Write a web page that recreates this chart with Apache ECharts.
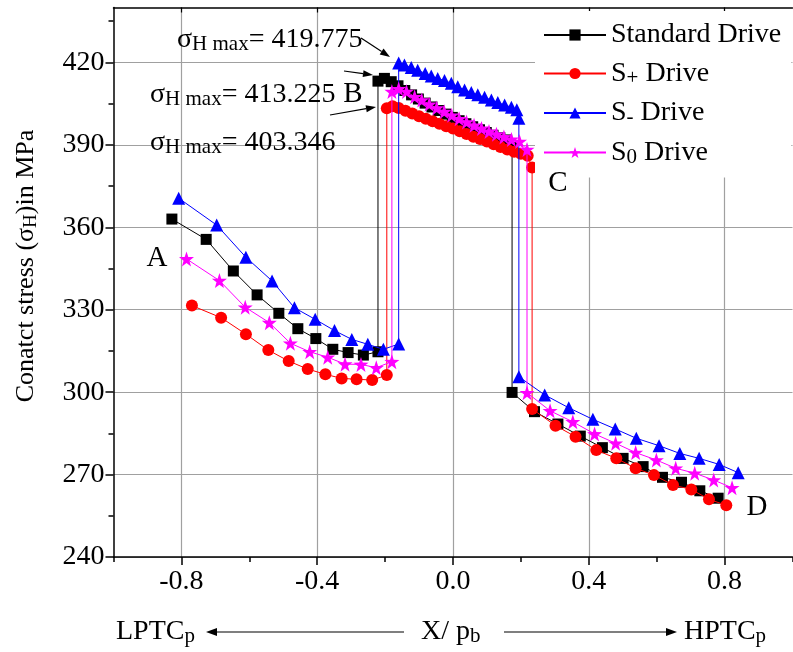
<!DOCTYPE html>
<html>
<head>
<meta charset="utf-8">
<script src="https://cdn.jsdelivr.net/npm/echarts@6/dist/echarts.min.js"></script>
<style>
html,body{margin:0;padding:0;background:#fff;}
#chart{width:793px;height:652px;}
</style>
</head>
<body>
<div id="chart"></div>
<script>
// ---------- DATA ----------
const seriesNames = ['Standard Drive', 'S+ Drive', 'S- Drive', 'S0 Drive'];

// Standard Drive
const stdX = [-0.828,-0.727,-0.647,-0.577,-0.513,-0.457,-0.404,-0.354,-0.309,-0.264,-0.221,
  -0.221,-0.202,-0.182,-0.162,-0.142,-0.122,-0.102,-0.082,-0.062,-0.042,-0.022,-0.002,0.018,0.038,0.058,0.078,0.098,0.118,0.138,0.158,0.174,
  0.174,0.240,0.309,0.375,0.440,0.501,0.560,0.617,0.673,0.727,0.781];
const stdY = [363.0,355.6,344.1,335.4,328.7,323.1,319.5,315.6,314.4,313.5,314.7,
  413.2,414.2,413.0,411.5,409.8,408.2,406.7,405.2,403.8,402.5,401.2,400.0,398.8,397.7,396.6,395.5,394.5,393.5,392.6,391.8,389.1,
  299.9,292.9,288.4,284.0,279.8,275.9,272.9,269.0,267.2,264.1,261.4];

// S+ Drive
const plusX = [-0.769,-0.683,-0.610,-0.544,-0.484,-0.428,-0.376,-0.328,-0.284,-0.238,-0.195,
  -0.195,-0.178,-0.160,-0.140,-0.120,-0.100,-0.080,-0.060,-0.040,-0.020,0.000,0.020,0.040,0.060,0.080,0.100,0.120,0.140,0.160,0.180,0.200,0.220,0.233,
  0.233,0.302,0.361,0.422,0.481,0.538,0.592,0.648,0.702,0.754,0.805];
const plusY = [331.5,327.1,321.1,315.3,311.3,308.4,306.5,305.0,304.7,304.4,306.2,
  403.3,404.1,403.4,402.4,401.4,400.4,399.5,398.6,397.7,396.8,396.0,395.0,394.0,393.0,392.1,391.2,390.2,389.2,388.3,387.5,386.8,386.0,381.8,
  293.9,287.8,283.8,278.9,275.9,272.3,269.8,266.2,264.6,261.0,258.8];

// S- Drive
const minusX = [-0.808,-0.696,-0.610,-0.533,-0.467,-0.406,-0.349,-0.298,-0.251,-0.205,-0.160,
  -0.160,-0.143,-0.123,-0.104,-0.082,-0.064,-0.045,-0.025,-0.005,0.014,0.034,0.054,0.073,0.093,0.113,0.132,0.152,0.172,0.188,0.194,
  0.194,0.270,0.341,0.412,0.478,0.540,0.607,0.668,0.725,0.784,0.840];
const minusY = [370.6,360.8,349.1,340.5,330.7,326.5,322.4,319.2,317.4,315.6,317.5,
  419.8,419.1,418.2,417.2,416.0,415.1,414.2,413.4,412.4,411.2,410.0,409.1,408.2,407.3,406.3,405.4,404.5,403.7,402.8,399.7,
  305.6,299.0,294.3,290.1,286.6,283.2,280.5,277.7,275.9,273.7,270.7];

// S0 Drive
const zeroX = [-0.785,-0.688,-0.612,-0.541,-0.479,-0.422,-0.369,-0.318,-0.271,-0.226,-0.180,
  -0.180,-0.160,-0.137,-0.113,-0.092,-0.070,-0.048,-0.026,-0.004,0.018,0.040,0.062,0.084,0.106,0.128,0.150,0.172,0.196,0.218,
  0.218,0.286,0.353,0.417,0.479,0.538,0.599,0.656,0.712,0.768,0.822];
const zeroY = [348.5,340.6,330.9,325.3,317.8,314.7,312.7,310.2,310.1,308.9,311.1,
  409.4,410.4,409.4,407.5,406.3,404.8,403.4,402.1,400.8,399.5,398.3,397.1,396.0,394.9,393.9,392.9,392.0,391.2,388.3,
  299.8,293.2,289.2,284.8,281.4,278.0,275.3,272.3,270.5,268.0,265.2];

// Axis ticks
const xMajorTicks = [-0.8, -0.4, 0.0, 0.4, 0.8];
const yMajorTicks = [240, 270, 300, 330, 360, 390, 420];
const yMinorTicks = [255, 285, 315, 345, 375, 405, 435];
const xMinorTicks = [-1.0, -0.6, -0.2, 0.2, 0.6, 1.0];

// ---------- STYLE ----------
const FONT = '"Liberation Serif", "Times New Roman", serif';
const colors = ['#000000', '#ff0000', '#0000ff', '#ff00ff'];
const STAR = 'path://M50,0 L61.8,35.1 L98.6,35.4 L69,57.3 L79.4,92.7 L50,71.3 L20.6,92.7 L31,57.3 L1.4,35.4 L38.2,35.1 Z';
const symbols = ['rect', 'circle', 'triangle', STAR];
const symbolSizes = [11, 12, 13, 15];

function zip(xs, ys) { return xs.map((x, i) => [x, ys[i]]); }
const allData = [zip(stdX, stdY), zip(plusX, plusY), zip(minusX, minusY), zip(zeroX, zeroY)];

function makeRich(size, subSize) {
  return {
    m: { fontFamily: FONT, fontSize: size, lineHeight: 30, color: '#000' },
    sub: { fontFamily: FONT, fontSize: subSize, lineHeight: 14, verticalAlign: 'bottom', color: '#000' }
  };
}
const subRich = makeRich(28, 21);
const ylabRich = makeRich(26, 19);

const legendLabels = {
  'Standard Drive': '{m|Standard Drive}',
  'S+ Drive': '{m|S}{sub|+}{m| Drive}',
  'S- Drive': '{m|S}{sub|-}{m| Drive}',
  'S0 Drive': '{m|S}{sub|0}{m| Drive}'
};

function arrow(x1, y1, x2, y2, head, w) {
  const dx = x2 - x1, dy = y2 - y1;
  const L = Math.sqrt(dx * dx + dy * dy);
  const ux = dx / L, uy = dy / L;
  const bx = x2 - ux * head, by = y2 - uy * head;
  const px = -uy * w / 2, py = ux * w / 2;
  return [
    { type: 'line', shape: { x1: x1, y1: y1, x2: bx, y2: by }, style: { stroke: '#000', lineWidth: 1.2 }, z: 100 },
    { type: 'polygon', shape: { points: [[x2, y2], [bx + px, by + py], [bx - px, by - py]] }, style: { fill: '#000' }, z: 100 }
  ];
}

function richText(text, x, y, align, rot, rich) {
  return {
    type: 'text', z: 100, x: x, y: y, rotation: rot || 0,
    style: {
      text: text, x: 0, y: 0, rich: rich || subRich,
      textAlign: align, align: align, textVerticalAlign: 'middle', verticalAlign: 'middle',
      fontFamily: FONT, fontSize: 28, fill: '#000'
    }
  };
}
function plainText(text, x, y, size) {
  return {
    type: 'text', z: 100,
    style: { text: text, x: x, y: y, textAlign: 'center', align: 'center', textVerticalAlign: 'middle', verticalAlign: 'middle',
      fontFamily: FONT, fontSize: size, fill: '#000' }
  };
}

const graphics = [].concat(
  [richText('{m|σ}{sub|H max}{m|= 419.775}', 177, 40, 'left')],
  [richText('{m|σ}{sub|H max}{m|= 413.225}', 150, 95, 'left')],
  [richText('{m|σ}{sub|H max}{m|= 403.346}', 150, 143, 'left')],
  [plainText('B', 353, 94, 29), plainText('A', 157, 258, 29), plainText('C', 558, 183, 29), plainText('D', 757, 507, 29)],
  arrow(361, 38, 390, 57, 10, 7),
  arrow(344, 71, 373, 75, 10, 7),
  arrow(330, 115, 376, 107, 10, 7),
  [richText('{m|LPTC}{sub|p}', 116, 632, 'left')],
  [richText('{m|X/ p}{sub|b}', 421, 632, 'left')],
  [richText('{m|HPTC}{sub|p}', 684, 632, 'left')],
  arrow(404, 632, 206, 632, 11, 8),
  arrow(504, 632, 677, 632, 11, 8),
  [richText('{m|Conatct stress (σ}{sub|H}{m|)in MPa}', 26, 266, 'center', Math.PI / 2, ylabRich)]
);

const chart = echarts.init(document.getElementById('chart'), null, { renderer: 'canvas' });

const option = {
  animation: false,
  backgroundColor: '#fff',
  grid: { left: 113.5, right: 0.5, top: 7.5, bottom: 95, containLabel: false },
  legend: {
    data: seriesNames,
    orient: 'vertical',
    left: 535, top: 11,
    padding: [10, 10, 10, 8],
    itemGap: 10.5,
    itemWidth: 62, itemHeight: 14,
    backgroundColor: '#fff',
    formatter: function (n) { return legendLabels[n]; },
    textStyle: { fontFamily: FONT, fontSize: 28, color: '#000', rich: subRich }
  },
  xAxis: [
    {
      type: 'value', min: -1, max: 1, interval: 0.2, position: 'bottom',
      axisLine: { show: true, onZero: false, lineStyle: { color: '#000', width: 1.5 } },
      axisTick: { show: true, customValues: xMajorTicks, length: 8, lineStyle: { color: '#000', width: 1.5 } },
      axisLabel: { show: true, customValues: xMajorTicks, margin: 11, fontFamily: FONT, fontSize: 28, color: '#000',
        formatter: function (v) { return v.toFixed(1); } },
      splitLine: { show: true, lineStyle: { color: '#a0a0a0', width: 1.2 } }
    },
    {
      type: 'value', min: -1, max: 1, interval: 0.2, position: 'bottom',
      axisLine: { show: false, onZero: false },
      axisTick: { show: true, customValues: xMinorTicks, length: 5, lineStyle: { color: '#000', width: 1.5 } },
      axisLabel: { show: false }, splitLine: { show: false }
    },
    {
      type: 'value', min: -1, max: 1, interval: 0.2, position: 'top',
      axisLine: { show: true, onZero: false, lineStyle: { color: '#000', width: 1.5 } },
      axisTick: { show: true, inside: true, customValues: xMajorTicks, length: 5, lineStyle: { color: '#000', width: 1.2 } },
      axisLabel: { show: false }, splitLine: { show: false }
    }
  ],
  yAxis: [
    {
      type: 'value', min: 240, max: 440, interval: 30, position: 'left',
      axisLine: { show: true, onZero: false, lineStyle: { color: '#000', width: 1.5 } },
      axisTick: { show: true, customValues: yMajorTicks, length: 8, lineStyle: { color: '#000', width: 1.5 } },
      axisLabel: { show: true, customValues: yMajorTicks, margin: 9, fontFamily: FONT, fontSize: 28, color: '#000' },
      splitLine: { show: true, lineStyle: { color: '#a0a0a0', width: 1.2 } }
    },
    {
      type: 'value', min: 240, max: 440, interval: 15, position: 'left',
      axisLine: { show: false, onZero: false },
      axisTick: { show: true, customValues: yMinorTicks, length: 5, lineStyle: { color: '#000', width: 1.5 } },
      axisLabel: { show: false }, splitLine: { show: false }
    }
  ],
  series: seriesNames.map((name, i) => ({
    name: name,
    type: 'line',
    xAxisIndex: 0, yAxisIndex: 0,
    data: allData[i],
    symbol: symbols[i],
    symbolSize: symbolSizes[i],
    showAllSymbol: true,
    lineStyle: { color: colors[i], width: 1 },
    itemStyle: { color: colors[i] },
    z: 2 + i
  })),
  graphic: graphics
};
chart.setOption(option);
</script>
</body>
</html>
